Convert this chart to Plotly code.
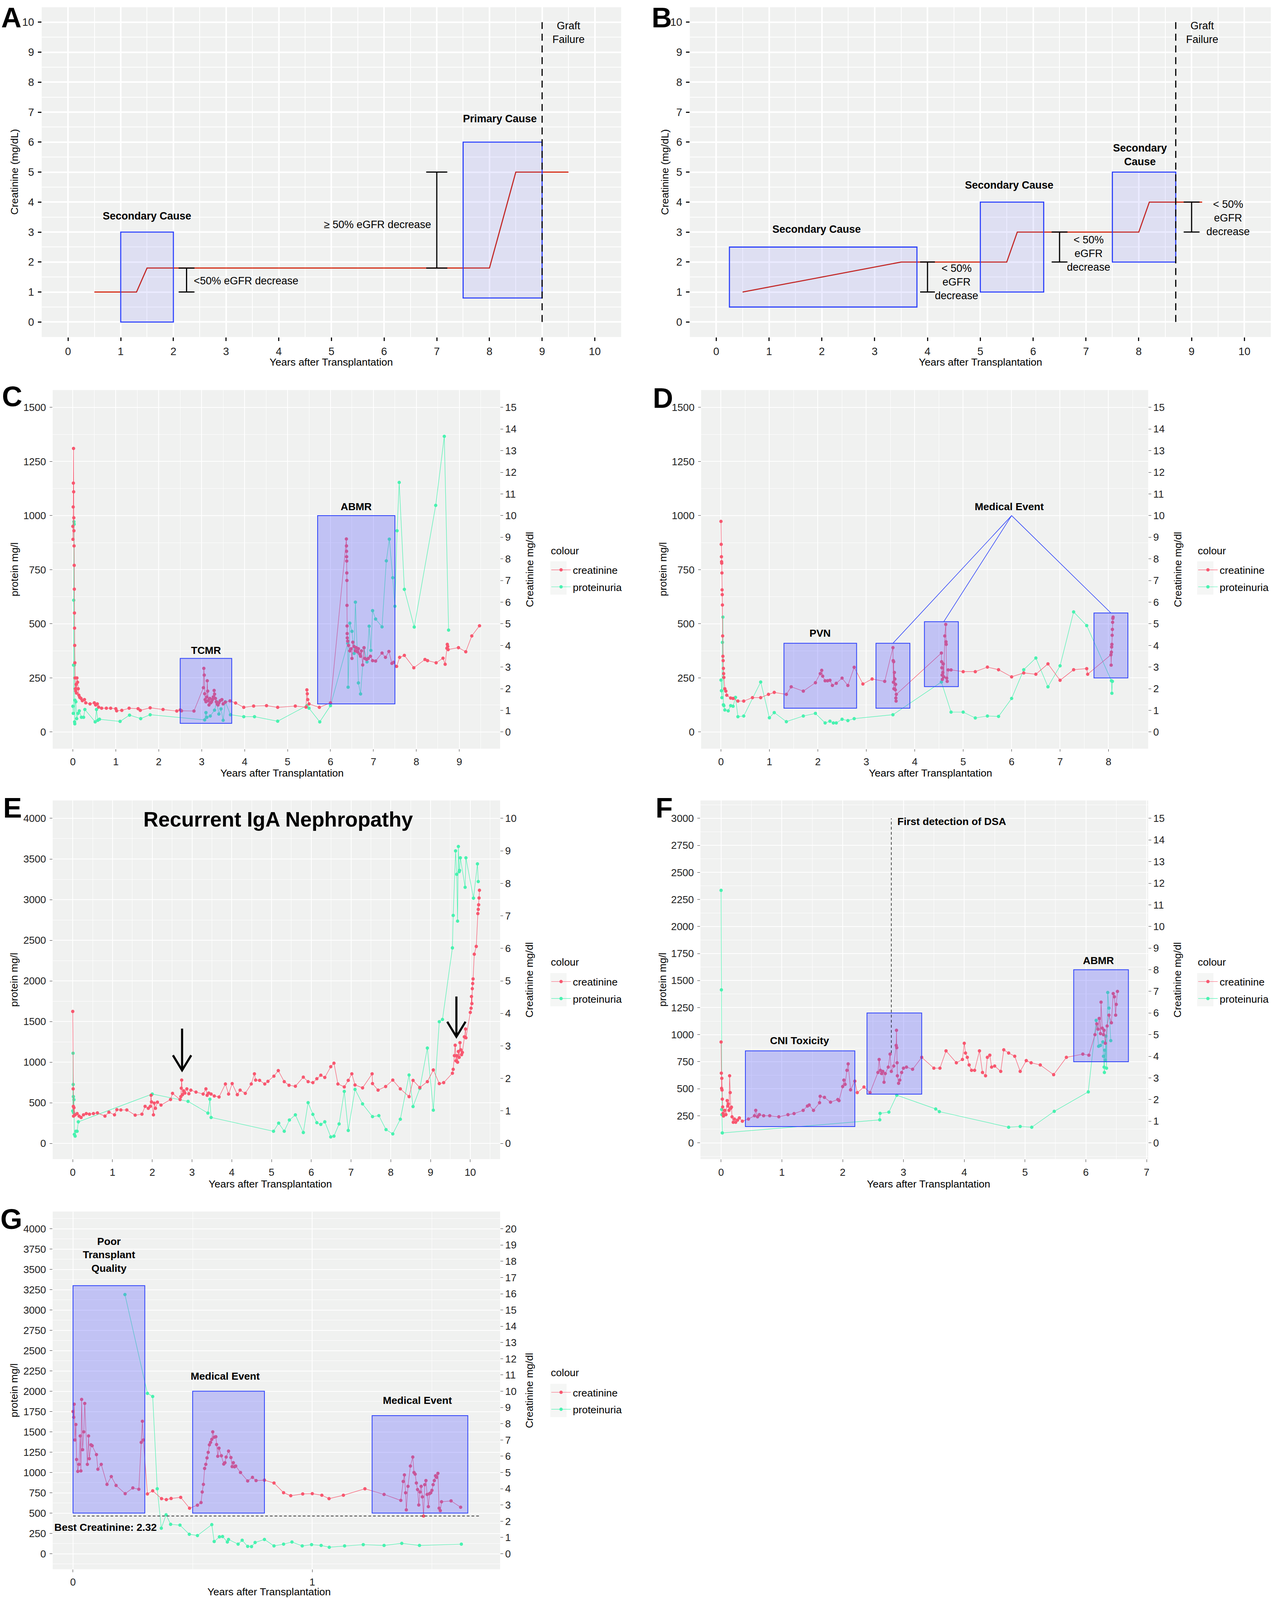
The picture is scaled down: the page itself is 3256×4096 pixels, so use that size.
import plotly.graph_objects as go

# ============================ DATA ============================
# ---- Panel A : schematic creatinine course (mg/dL) ----
A_LINE_X = [0.5, 1.3, 1.5, 8.0, 8.5, 9.5]
A_LINE_Y = [1.0, 1.0, 1.8, 1.8, 5.0, 5.0]
A_BOX_X0 = [1.0, 7.5]
A_BOX_X1 = [2.0, 9.0]
A_BOX_Y0 = [0.0, 0.8]
A_BOX_Y1 = [3.0, 6.0]
A_ERR_X = [2.25, 7.0]
A_ERR_LO = [1.0, 1.8]
A_ERR_HI = [1.8, 5.0]
A_FAIL_X = 9.0
A_FAIL_Y = [0.0, 10.0]
A_LABEL_X = [1.5, 8.2, 3.38, 5.87, 9.5]
A_LABEL_Y = [3.53, 6.78, 1.375, 3.25, 9.65]
A_LABEL_T = ["<b>Secondary Cause</b>", "<b>Primary Cause</b>", "&lt;50% eGFR decrease",
             "≥ 50% eGFR decrease", "Graft<br>Failure"]

# ---- Panel B ----
B_LINE_X = [0.5, 3.5, 5.5, 5.7, 8.0, 8.2, 9.2]
B_LINE_Y = [1.0, 2.0, 2.0, 3.0, 3.0, 4.0, 4.0]
B_BOX_X0 = [0.25, 5.0, 7.5]
B_BOX_X1 = [3.8, 6.2, 8.7]
B_BOX_Y0 = [0.5, 1.0, 2.0]
B_BOX_Y1 = [2.5, 4.0, 5.0]
B_ERR_X = [4.0, 6.5, 9.0]
B_ERR_LO = [1.0, 2.0, 3.0]
B_ERR_HI = [2.0, 3.0, 4.0]
B_FAIL_X = 8.7
B_FAIL_Y = [0.0, 10.0]
B_LABEL_X = [1.9, 5.55, 8.02, 4.55, 7.05, 9.69, 9.2]
B_LABEL_Y = [3.09, 4.56, 5.57, 1.34, 2.29, 3.47, 9.65]
B_LABEL_T = ["<b>Secondary Cause</b>", "<b>Secondary Cause</b>", "<b>Secondary<br>Cause</b>",
             "&lt; 50%<br>eGFR<br>decrease", "&lt; 50%<br>eGFR<br>decrease",
             "&lt; 50%<br>eGFR<br>decrease", "Graft<br>Failure"]

# right-hand (creatinine) tick values of panels C-G
RIGHT_TICKS = {"C": list(range(0, 16)), "D": list(range(0, 16)), "E": list(range(0, 11)),
               "F": list(range(0, 16)), "G": list(range(0, 21))}

# ---- Panel C : (years, creatinine mg/dl) and (years, protein mg/l) ----
C_CREAT = [(0.000, 9.5), (0.003, 8.9), (0.008, 10.4), (0.012, 11.5), (0.016, 13.1), (0.019, 11.1),
           (0.022, 9.9), (0.025, 9.3), (0.028, 8.6), (0.031, 7.7), (0.034, 6.6), (0.037, 5.5),
           (0.040, 4.8), (0.043, 4.0), (0.047, 3.2), (0.052, 2.5), (0.058, 2.0), (0.065, 1.9),
           (0.075, 2.2), (0.085, 1.8), (0.095, 2.5), (0.11, 2.3), (0.125, 2.0), (0.14, 1.7),
           (0.16, 1.6), (0.19, 1.55), (0.22, 1.45), (0.27, 1.5), (0.30, 1.35), (0.40, 1.3),
           (0.50, 1.35), (0.53, 1.25), (0.57, 1.3), (0.60, 1.15), (0.67, 1.1), (0.78, 1.1),
           (0.88, 1.1), (1.00, 1.08), (1.02, 0.98), (1.14, 1.0), (1.31, 1.1), (1.52, 1.08),
           (1.57, 1.0), (1.80, 1.12), (2.10, 1.04), (2.42, 0.97), (2.50, 1.02), (2.53, 0.98),
           (2.82, 0.97), (3.04, 2.05), (3.05, 2.94), (3.06, 2.63), (3.07, 1.77), (3.08, 1.5),
           (3.10, 1.4), (3.12, 1.62), (3.13, 2.37), (3.14, 1.89), (3.15, 1.45), (3.17, 1.25),
           (3.19, 1.55), (3.21, 1.35), (3.23, 1.4), (3.25, 1.5), (3.27, 1.62), (3.29, 1.92),
           (3.30, 1.75), (3.32, 1.55), (3.34, 1.4), (3.36, 1.3), (3.38, 1.25), (3.40, 1.35),
           (3.43, 1.45), (3.47, 1.5), (3.50, 1.3), (3.55, 1.38), (3.66, 1.44), (3.79, 1.34),
           (3.98, 1.14), (4.21, 1.2), (4.51, 1.22), (4.77, 1.14), (5.18, 1.2), (5.43, 1.15),
           (5.45, 1.95), (5.46, 1.77), (5.47, 1.5), (5.50, 1.3), (5.74, 1.14), (6.00, 1.35),
           (6.370, 8.92), (6.372, 8.6), (6.374, 8.35), (6.376, 8.1), (6.378, 7.9), (6.380, 7.35),
           (6.382, 7.0), (6.384, 5.85), (6.386, 4.9), (6.388, 4.55), (6.39, 4.35), (6.40, 4.2),
           (6.42, 4.0), (6.45, 3.75), (6.48, 3.85), (6.50, 3.4), (6.52, 4.15), (6.55, 3.95),
           (6.58, 3.75), (6.60, 3.9), (6.63, 3.7), (6.65, 3.85), (6.68, 3.6), (6.70, 3.5),
           (6.72, 3.75), (6.75, 3.1), (6.78, 3.9), (6.80, 3.4), (6.84, 3.35), (6.88, 3.4),
           (6.93, 3.5), (6.98, 3.3), (7.05, 3.28), (7.20, 3.65), (7.28, 3.45), (7.36, 3.72),
           (7.43, 3.17), (7.47, 3.22), (7.54, 3.03), (7.61, 3.45), (7.72, 3.54), (7.94, 2.97),
           (8.20, 3.35), (8.26, 3.3), (8.46, 3.2), (8.62, 3.41), (8.67, 3.13), (8.71, 3.87),
           (8.72, 4.05), (8.73, 3.95), (8.74, 3.81), (8.98, 3.9), (9.15, 3.71), (9.29, 4.44),
           (9.47, 4.91)]
C_PROT = [(0.0, 119), (0.01, 86), (0.015, 309), (0.02, 609), (0.025, 972), (0.03, 960),
          (0.035, 310), (0.04, 47), (0.045, 38), (0.05, 147), (0.07, 140), (0.09, 62),
          (0.12, 86), (0.15, 98), (0.2, 68), (0.25, 68), (0.28, 104), (0.52, 47), (0.55, 104),
          (0.58, 54), (0.62, 59), (1.1, 49), (1.32, 78), (1.58, 62), (1.8, 80), (3.07, 56),
          (3.1, 90), (3.12, 68), (3.2, 74), (3.3, 101), (3.35, 140), (3.4, 83), (3.45, 107),
          (3.5, 54), (3.55, 140), (3.67, 80), (3.98, 71), (4.23, 71), (4.77, 50), (5.45, 122),
          (5.5, 110), (5.75, 47), (6.0, 122), (6.4, 410), (6.41, 207), (6.45, 503), (6.5, 465),
          (6.55, 363), (6.58, 600), (6.65, 227), (6.7, 176), (6.78, 389), (6.85, 324),
          (6.9, 489), (6.94, 377), (6.98, 561), (7.05, 522), (7.2, 486), (7.3, 791), (7.37, 891),
          (7.45, 713), (7.5, 581), (7.55, 930), (7.6, 1153), (7.72, 659), (7.95, 485),
          (8.45, 1047), (8.65, 1366), (8.75, 471)]
C_BOX_X0 = [2.5, 5.7]
C_BOX_X1 = [3.7, 7.5]
C_BOX_Y0 = [40, 130]
C_BOX_Y1 = [340, 1000]
C_LABEL_X = [3.1, 6.6]
C_LABEL_Y = [377, 1041]
C_LABEL_T = ["<b>TCMR</b>", "<b>ABMR</b>"]

# ---- Panel D ----
D_CREAT = [(0.0, 9.73), (0.005, 8.67), (0.01, 8.1), (0.013, 7.87), (0.016, 7.8), (0.02, 7.35),
           (0.023, 6.57), (0.026, 6.35), (0.03, 5.87), (0.035, 4.44), (0.04, 3.5), (0.045, 3.3),
           (0.05, 2.94), (0.055, 2.7), (0.06, 2.52), (0.08, 2.0), (0.1, 1.89), (0.12, 1.7),
           (0.2, 1.57), (0.25, 1.55), (0.35, 1.43), (0.47, 1.43), (0.65, 1.59), (0.82, 1.59),
           (0.98, 1.74), (1.1, 1.83), (1.35, 1.74), (1.45, 2.09), (1.7, 1.89), (1.95, 2.28),
           (2.05, 2.7), (2.08, 2.85), (2.1, 2.58), (2.15, 2.37), (2.2, 2.37), (2.25, 2.39),
           (2.3, 2.15), (2.38, 2.25), (2.5, 2.49), (2.62, 2.15), (2.75, 2.99), (2.93, 2.22),
           (3.12, 2.45), (3.38, 2.34), (3.55, 3.9), (3.555, 3.3), (3.56, 2.3), (3.565, 3.25),
           (3.57, 2.0), (3.58, 2.75), (3.59, 2.45), (3.6, 1.95), (3.605, 2.2), (3.61, 1.57),
           (3.615, 1.43), (3.62, 1.74), (4.55, 3.65), (4.555, 3.25), (4.56, 2.97), (4.565, 2.63),
           (4.57, 2.43), (4.58, 2.75), (4.59, 3.15), (4.6, 2.55), (4.62, 4.44), (4.64, 4.97),
           (4.645, 4.17), (4.65, 4.05), (4.66, 2.49), (4.67, 2.34), (4.69, 2.87), (4.75, 2.87),
           (5.0, 2.79), (5.25, 2.79), (5.5, 3.0), (5.73, 2.88), (6.0, 2.55), (6.25, 2.73),
           (6.5, 2.67), (6.75, 3.15), (7.0, 2.39), (7.28, 2.88), (7.55, 2.93), (7.57, 2.67),
           (8.05, 3.57), (8.055, 3.09), (8.06, 3.69), (8.065, 3.93), (8.07, 4.05), (8.075, 4.47),
           (8.08, 4.74), (8.085, 5.07), (8.09, 5.25), (8.095, 5.31)]
D_PROT = [(0.0, 240), (0.01, 191), (0.02, 159), (0.03, 414), (0.04, 531), (0.05, 126),
          (0.06, 122), (0.08, 102), (0.15, 98), (0.2, 122), (0.25, 119), (0.3, 160), (0.35, 71),
          (0.47, 74), (0.82, 231), (1.0, 66), (1.1, 90), (1.35, 48), (1.7, 74), (1.95, 86),
          (2.15, 42), (2.25, 50), (2.32, 42), (2.38, 42), (2.5, 59), (2.62, 53), (2.75, 62),
          (3.55, 80), (4.55, 231), (4.75, 92), (5.0, 92), (5.25, 65), (5.5, 74), (5.73, 72),
          (6.0, 155), (6.25, 288), (6.5, 342), (6.75, 209), (7.0, 306), (7.28, 555), (7.55, 492),
          (8.06, 237), (8.07, 179), (8.08, 234)]
D_BOX_X0 = [1.3, 3.2, 4.2, 7.7]
D_BOX_X1 = [2.8, 3.9, 4.9, 8.4]
D_BOX_Y0 = [110, 110, 210, 250]
D_BOX_Y1 = [410, 410, 510, 550]
D_EVENT_APEX = (6.0, 1000)
D_EVENT_TO_X = [3.55, 4.6, 8.05]
D_EVENT_TO_Y = [410, 510, 550]
D_LABEL_X = [2.05, 5.95]
D_LABEL_Y = [456, 1041]
D_LABEL_T = ["<b>PVN</b>", "<b>Medical Event</b>"]

# ---- Panel E ----
E_CREAT = [(0.0, 4.06), (0.01, 1.68), (0.015, 1.14), (0.02, 0.84), (0.03, 1.1), (0.06, 0.88),
           (0.11, 0.92), (0.16, 0.84), (0.21, 0.8), (0.27, 0.88), (0.34, 0.92), (0.42, 0.9),
           (0.52, 0.92), (0.62, 0.94), (0.81, 0.84), (0.91, 0.96), (1.05, 0.88), (1.11, 1.04),
           (1.21, 1.03), (1.36, 1.03), (1.57, 0.87), (1.74, 0.9), (1.82, 1.14), (1.9, 1.08),
           (1.95, 1.14), (1.97, 1.48), (1.98, 1.28), (2.03, 0.88), (2.05, 1.24), (2.08, 1.08),
           (2.13, 1.27), (2.22, 1.18), (2.46, 1.35), (2.51, 1.54), (2.7, 1.35), (2.72, 1.44),
           (2.73, 1.7), (2.74, 1.95), (2.76, 1.5), (2.79, 1.62), (2.82, 1.55), (2.87, 1.68),
           (2.92, 1.53), (2.97, 1.64), (3.1, 1.58), (3.28, 1.52), (3.35, 1.68), (3.38, 1.48),
           (3.42, 1.55), (3.48, 1.52), (3.56, 1.46), (3.68, 1.43), (3.84, 1.83), (3.92, 1.52),
           (4.01, 1.84), (4.14, 1.5), (4.21, 1.64), (4.34, 1.54), (4.49, 1.83), (4.57, 2.14),
           (4.6, 1.95), (4.7, 1.94), (4.83, 1.83), (4.91, 1.91), (5.06, 2.07), (5.17, 2.24),
           (5.32, 1.9), (5.44, 1.79), (5.6, 1.76), (5.8, 2.04), (5.92, 1.9), (6.04, 1.87),
           (6.14, 1.99), (6.24, 2.1), (6.34, 2.03), (6.49, 2.36), (6.57, 2.47), (6.67, 1.83),
           (6.83, 1.74), (6.93, 1.94), (7.02, 2.14), (7.1, 1.8), (7.29, 1.71), (7.53, 2.14),
           (7.54, 1.84), (7.68, 1.64), (7.87, 1.75), (8.05, 1.95), (8.24, 1.68), (8.46, 1.44),
           (8.56, 1.94), (8.73, 1.72), (8.92, 1.9), (9.07, 2.26), (9.22, 1.84), (9.33, 1.87),
           (9.55, 2.16), (9.57, 2.28), (9.6, 2.7), (9.62, 3.02), (9.64, 2.54), (9.66, 2.7),
           (9.68, 2.5), (9.7, 2.83), (9.72, 2.65), (9.74, 3.1), (9.76, 2.88), (9.78, 2.73),
           (9.8, 2.8), (9.85, 3.28), (9.88, 3.52), (9.89, 3.25), (10.0, 4.03), (10.02, 4.16),
           (10.03, 4.52), (10.04, 4.3), (10.05, 4.76), (10.06, 4.92), (10.07, 5.06), (10.1, 5.82),
           (10.15, 6.06), (10.19, 7.07), (10.2, 7.2), (10.21, 7.34), (10.22, 7.55), (10.23, 7.79)]
E_PROT = [(0.0, 400), (0.008, 1110), (0.012, 726), (0.016, 576), (0.02, 378), (0.03, 538),
          (0.04, 112), (0.06, 90), (0.08, 150), (0.11, 150), (0.14, 266), (2.0, 608), (2.9, 518),
          (3.4, 374), (3.45, 544), (3.48, 320), (5.05, 150), (5.18, 250), (5.32, 150),
          (5.45, 288), (5.6, 352), (5.8, 134), (5.92, 502), (6.04, 358), (6.14, 256),
          (6.24, 234), (6.34, 266), (6.49, 80), (6.57, 90), (6.7, 240), (6.83, 640), (6.93, 160),
          (7.1, 666), (7.29, 486), (7.54, 330), (7.7, 342), (7.88, 170), (8.05, 118), (8.24, 298),
          (8.46, 842), (8.56, 454), (8.73, 678), (8.92, 1174), (9.07, 410), (9.22, 1498),
          (9.3, 1526), (9.55, 2406), (9.57, 2806), (9.63, 3600), (9.66, 3312), (9.68, 2736),
          (9.7, 3654), (9.72, 3344), (9.73, 3360), (9.75, 3514), (9.87, 3152), (9.89, 3514),
          (10.08, 3018), (10.18, 3440), (10.2, 3222)]
E_ARROW_X = [2.75, 9.65]
E_ARROW_FROM = [1413, 1808]
E_ARROW_TO = [900, 1313]
E_TITLE = ("<b>Recurrent IgA Nephropathy</b>", 5.17, 3990)

# ---- Panel F ----
F_CREAT = [(0.0, 4.66), (0.004, 3.22), (0.008, 2.52), (0.012, 2.98), (0.016, 2.44), (0.02, 2.02),
           (0.026, 1.66), (0.032, 1.36), (0.04, 1.24), (0.06, 1.5), (0.08, 1.3), (0.1, 1.95),
           (0.11, 1.7), (0.12, 1.8), (0.13, 1.5), (0.14, 3.1), (0.15, 2.32), (0.16, 1.6),
           (0.17, 1.65), (0.18, 1.2), (0.2, 0.95), (0.22, 1.1), (0.24, 0.95), (0.27, 1.05),
           (0.3, 1.15), (0.35, 1.0), (0.45, 1.1), (0.55, 1.25), (0.57, 1.5), (0.6, 1.2),
           (0.63, 1.3), (0.7, 1.25), (0.8, 1.25), (0.95, 1.2), (1.1, 1.3), (1.2, 1.35),
           (1.35, 1.5), (1.42, 1.7), (1.45, 1.75), (1.52, 1.5), (1.62, 1.85), (1.63, 2.15),
           (1.7, 2.1), (1.8, 1.88), (1.92, 2.0), (1.94, 1.95), (2.0, 2.6), (2.02, 2.9),
           (2.04, 2.7), (2.07, 3.35), (2.09, 3.65), (2.13, 2.45), (2.2, 2.85), (2.24, 2.32),
           (2.35, 2.58), (2.45, 2.32), (2.58, 3.25), (2.6, 3.85), (2.62, 3.35), (2.64, 3.2),
           (2.66, 3.3), (2.68, 2.8), (2.7, 3.2), (2.75, 3.5), (2.78, 4.1), (2.8, 3.3),
           (2.84, 3.55), (2.88, 4.5), (2.885, 5.2), (2.89, 4.4), (2.895, 3.7), (2.9, 3.1),
           (2.92, 2.75), (2.94, 2.9), (2.97, 3.25), (3.0, 3.45), (3.05, 3.5), (3.15, 3.4),
           (3.3, 3.95), (3.5, 3.45), (3.6, 3.45), (3.7, 4.25), (3.87, 3.7), (3.97, 3.85),
           (4.0, 4.6), (4.02, 4.15), (4.05, 3.95), (4.08, 3.6), (4.12, 3.35), (4.17, 3.35),
           (4.25, 4.25), (4.3, 3.25), (4.35, 3.1), (4.38, 3.95), (4.42, 4.05), (4.45, 3.5),
           (4.5, 3.55), (4.6, 3.3), (4.65, 4.3), (4.73, 4.15), (4.83, 4.0), (4.92, 3.3),
           (5.02, 3.8), (5.1, 3.7), (5.25, 3.6), (5.47, 3.15), (5.68, 3.95), (5.95, 4.1),
           (6.05, 4.05), (6.15, 5.0), (6.18, 5.5), (6.2, 5.25), (6.22, 5.75), (6.24, 5.05),
           (6.25, 6.5), (6.27, 5.3), (6.29, 5.0), (6.3, 5.2), (6.32, 4.6), (6.35, 5.4),
           (6.38, 5.9), (6.42, 5.55), (6.45, 6.9), (6.47, 6.75), (6.49, 5.9), (6.5, 6.4),
           (6.52, 7.0)]
F_PROT = [(0.0, 2334), (0.005, 1414), (0.01, 308), (0.013, 260), (0.02, 91), (2.61, 212),
          (2.615, 272), (2.76, 284), (2.89, 440), (3.53, 313), (3.59, 288), (4.73, 144),
          (4.92, 151), (5.11, 144), (5.48, 291), (6.04, 471), (6.17, 1132), (6.21, 892),
          (6.24, 900), (6.28, 933), (6.29, 800), (6.3, 700), (6.305, 650), (6.31, 856),
          (6.32, 764), (6.33, 986), (6.34, 690), (6.36, 1390), (6.38, 1245), (6.41, 945)]
F_BOX_X0 = [0.4, 2.4, 5.8]
F_BOX_X1 = [2.2, 3.3, 6.7]
F_BOX_Y0 = [150, 450, 750]
F_BOX_Y1 = [850, 1200, 1600]
F_DSA_X = 2.8
F_DSA_Y = [830, 3000]
F_LABEL_X = [1.29, 6.21, 3.79]
F_LABEL_Y = [945, 1685, 2971]
F_LABEL_T = ["<b>CNI Toxicity</b>", "<b>ABMR</b>", "<b>First detection of DSA</b>"]

# ---- Panel G ----
G_CREAT = [(0.0, 8.75), (0.003, 8.4), (0.005, 9.2), (0.008, 7.0), (0.012, 7.95), (0.015, 5.8),
           (0.02, 5.07), (0.025, 5.5), (0.03, 7.25), (0.033, 5.1), (0.036, 9.5), (0.04, 6.4),
           (0.045, 7.5), (0.049, 9.25), (0.06, 5.5), (0.065, 7.25), (0.068, 5.85), (0.075, 6.7),
           (0.08, 6.65), (0.098, 6.1), (0.104, 5.2), (0.118, 5.5), (0.142, 4.27), (0.16, 4.75),
           (0.18, 4.2), (0.218, 3.7), (0.25, 4.05), (0.275, 3.97), (0.285, 6.85), (0.29, 8.15),
           (0.294, 7.0), (0.311, 3.68), (0.333, 3.87), (0.37, 3.39), (0.39, 3.33), (0.41, 3.4),
           (0.45, 3.47), (0.487, 2.8), (0.52, 2.99), (0.535, 3.15), (0.54, 3.8), (0.545, 4.27),
           (0.55, 5.25), (0.555, 5.5), (0.56, 5.9), (0.565, 6.24), (0.57, 6.7), (0.575, 6.85),
           (0.58, 7.04), (0.584, 7.5), (0.59, 7.17), (0.597, 7.2), (0.6, 6.72), (0.605, 6.0),
           (0.61, 6.5), (0.62, 6.03), (0.63, 5.52), (0.635, 5.6), (0.64, 5.95), (0.65, 6.32),
           (0.66, 5.92), (0.665, 5.36), (0.67, 5.6), (0.675, 5.35), (0.68, 5.4), (0.7, 5.0),
           (0.73, 4.48), (0.75, 4.7), (0.765, 4.5), (0.8, 4.53), (0.84, 4.35), (0.88, 3.76),
           (0.91, 3.57), (0.96, 3.68), (1.0, 3.7), (1.04, 3.6), (1.07, 3.39), (1.13, 3.6),
           (1.22, 4.0), (1.3, 3.65), (1.37, 3.28), (1.38, 4.45), (1.385, 4.85), (1.39, 3.75),
           (1.393, 2.7), (1.4, 4.15), (1.41, 5.4), (1.42, 5.95), (1.425, 5.0), (1.43, 4.9),
           (1.435, 4.35), (1.44, 3.95), (1.445, 3.0), (1.45, 3.8), (1.455, 4.15), (1.46, 3.5),
           (1.465, 2.32), (1.47, 4.25), (1.475, 4.5), (1.48, 3.65), (1.485, 2.9), (1.49, 3.7),
           (1.495, 3.75), (1.5, 3.9), (1.505, 4.25), (1.51, 4.5), (1.515, 4.8), (1.52, 4.7),
           (1.525, 4.95), (1.53, 2.8), (1.535, 2.65), (1.54, 3.2), (1.58, 3.25), (1.62, 2.86)]
G_PROT = [(0.217, 3190), (0.311, 1974), (0.333, 1936), (0.352, 800), (0.369, 314), (0.389, 480),
          (0.408, 362), (0.447, 352), (0.486, 240), (0.52, 224), (0.58, 358), (0.59, 150),
          (0.612, 208), (0.625, 212), (0.645, 144), (0.65, 176), (0.69, 118), (0.707, 166),
          (0.73, 90), (0.746, 88), (0.761, 138), (0.8, 176), (0.84, 96), (0.88, 118),
          (0.915, 144), (0.958, 96), (0.997, 112), (1.037, 102), (1.071, 80), (1.135, 96),
          (1.213, 112), (1.3, 102), (1.374, 128), (1.448, 102), (1.623, 118)]
G_BOX_X0 = [0.0, 0.5, 1.25]
G_BOX_X1 = [0.3, 0.8, 1.65]
G_BOX_Y0 = [500, 500, 500]
G_BOX_Y1 = [3300, 2000, 1700]
G_BEST_CREAT = 2.32
G_BEST_X = [0.0, 1.7]
G_LABEL_X = [0.15, 0.636, 1.44, 0.136]
G_LABEL_Y = [3680, 2186, 1888, 326]
G_LABEL_T = ["<b>Poor<br>Transplant<br>Quality</b>", "<b>Medical Event</b>", "<b>Medical Event</b>",
             "<b>Best Creatinine: 2.32</b>"]

# ============================ STYLE / GEOMETRY ============================
REF_W, REF_H = 4053.0, 5099.0
OUT_W, OUT_H = 3256, 4096
K = OUT_W / REF_W


def fx(v):
    return v / REF_W


def fy(v):
    return 1.0 - v / REF_H


FONT = "Liberation Sans, Arial, Helvetica, sans-serif"
BG = "#F0F1F0"
TICK_TXT = "#1e1e1e"
RED = "#D01A00"
CREAT_COL = "#F8576F"
PROT_COL = "#48F2B0"
BOX_EDGE = "#2B40FA"
BOX_FILL_AB = "rgba(110,110,255,0.14)"
BOX_FILL = "rgba(85,85,255,0.3)"
LW = 1.2
MS = 8.5

GEOM = {
    "A": dict(xpx=(133, 1981), ypx=(23, 1074), xr=(-0.5, 10.5), yr=(-0.5, 10.5)),
    "B": dict(xpx=(2200, 4053), ypx=(23, 1074), xr=(-0.5, 10.5), yr=(-0.5, 10.5)),
    "C": dict(xpx=(168, 1595), ypx=(1243, 2386), xr=(-0.47, 9.95), yr=(-77, 1580), k=100, dy=250, my=125),
    "D": dict(xpx=(2236, 3662), ypx=(1243, 2386), xr=(-0.41, 8.82), yr=(-77, 1580), k=100, dy=250, my=125),
    "E": dict(xpx=(168, 1595), ypx=(2551, 3694), xr=(-0.505, 10.75), yr=(-193, 4220), k=400, dy=500, my=250),
    "F": dict(xpx=(2234, 3662), ypx=(2551, 3694), xr=(-0.339, 7.026), yr=(-151, 3165), k=200, dy=250, my=125),
    "G": dict(xpx=(168, 1595), ypx=(3861, 5001), xr=(-0.085, 1.785), yr=(-191, 4212), k=200, dy=250, my=125),
}
AXES = {"A": ("x", "y", None), "B": ("x2", "y2", None), "C": ("x3", "y3", "y4"),
        "D": ("x4", "y5", "y6"), "E": ("x5", "y7", "y8"), "F": ("x6", "y9", "y10"),
        "G": ("x7", "y11", "y12")}
LEGENDS = {"C": "legend", "D": "legend2", "E": "legend3", "F": "legend4", "G": "legend5"}
# legend geometry (reference px): key-left, title centre y, first item centre y, extra left shift
LEG_POS = {"C": (1755, 1755, 1816, 0), "D": (3826, 1755, 1816, 8), "E": (1755, 3066, 3128, 0),
           "F": (3826, 3066, 3128, 8), "G": (1755, 4374, 4437, 0)}
TITLES = {
    "A": dict(x=(1057, 1154), y=(45, 548.5)),
    "B": dict(x=(3127, 1154), y=(2120, 548.5)),
    "C": dict(x=(900, 2464), y=(45, 1814.5), r=(1689, 1814.5)),
    "D": dict(x=(2968, 2464), y=(2114, 1814.5), r=(3756, 1814.5)),
    "E": dict(x=(862, 3773), y=(45, 3122.5), r=(1689, 3122.5)),
    "F": dict(x=(2961, 3773), y=(2114, 3122.5), r=(3756, 3122.5)),
    "G": dict(x=(858, 5073), y=(45, 4431), r=(1689, 4431)),
}
# panel letters: centre x, centre y (None = hang from the top edge)
LETTERS = {"A": (36, None), "B": (2110, None), "C": (39, 1264), "D": (2114, 1268),
           "E": (40, 2575), "F": (2118, 2575), "G": (36, 3885)}


def axname(ref, kind):
    return kind + "axis" + ref[1:]


fig = go.Figure()
layout = dict(width=OUT_W, height=OUT_H, margin=dict(l=0, r=0, t=0, b=0, pad=0),
              paper_bgcolor="white", plot_bgcolor=BG, hovermode=False,
              font=dict(family=FONT, size=26.5, color="black"))
shapes = []
annots = []

for key, g in GEOM.items():
    xr_, yr_, y2r = AXES[key]
    schematic = key in ("A", "B")
    tlen = 9 if schematic else 6.7
    twid = 2.6 if schematic else 1.2
    tcol = "#111111" if schematic else "#333333"
    tsize = 27.5 if schematic else 26.2
    gw, mgw = (4.0, 2.2) if schematic else (2.2, 1.3)
    xd = [fx(g["xpx"][0]), fx(g["xpx"][1])]
    yd = [fy(g["ypx"][1]), fy(g["ypx"][0])]
    common = dict(ticks="outside", ticklen=tlen, tickwidth=twid, tickcolor=tcol,
                  tickfont=dict(family=FONT, size=tsize, color=TICK_TXT),
                  zeroline=False, showline=False)
    layout[axname(xr_, "x")] = dict(domain=xd, range=list(g["xr"]), anchor=yr_, tick0=0, dtick=1,
                                    showgrid=True, gridcolor="white", gridwidth=gw,
                                    minor=dict(tick0=0, dtick=0.5, showgrid=True,
                                               gridcolor="white", gridwidth=mgw),
                                    ticklabelstandoff=3, **common)
    layout[axname(yr_, "y")] = dict(domain=yd, range=list(g["yr"]), anchor=xr_, tick0=0,
                                    dtick=(1 if schematic else g["dy"]),
                                    showgrid=True, gridcolor="white", gridwidth=gw,
                                    minor=dict(tick0=0, dtick=(0.5 if schematic else g["my"]),
                                               showgrid=True, gridcolor="white", gridwidth=mgw),
                                    ticklabelstandoff=4, **common)
    if y2r:
        k = g["k"]
        layout[axname(y2r, "y")] = dict(overlaying=yr_, side="right", anchor=xr_,
                                        range=[g["yr"][0] / k, g["yr"][1] / k],
                                        tickmode="array", tickvals=RIGHT_TICKS[key],
                                        showgrid=False, ticklabelstandoff=0, **common)
    t = TITLES[key]
    annots.append(dict(xref="paper", yref="paper", x=fx(t["x"][0]), y=fy(t["x"][1]),
                       text="Years after Transplantation", showarrow=False,
                       xanchor="center", yanchor="middle", font=dict(size=26.5)))
    ytxt = "Creatinine (mg/dL)" if schematic else "protein mg/l"
    annots.append(dict(xref="paper", yref="paper", x=fx(t["y"][0]), y=fy(t["y"][1]),
                       text=ytxt, showarrow=False, textangle=-90,
                       xanchor="center", yanchor="middle", font=dict(size=26.5)))
    if "r" in t:
        annots.append(dict(xref="paper", yref="paper", x=fx(t["r"][0]), y=fy(t["r"][1]),
                           text="Creatinine mg/dl", showarrow=False, textangle=-90,
                           xanchor="center", yanchor="middle", font=dict(size=26.5)))
    lx, ly = LETTERS[key]
    if ly is None:
        annots.append(dict(xref="paper", yref="paper", x=fx(lx), y=1.0, text="<b>%s</b>" % key,
                           showarrow=False, xanchor="center", yanchor="top", yshift=-3,
                           font=dict(size=72, color="black")))
    else:
        annots.append(dict(xref="paper", yref="paper", x=fx(lx), y=fy(ly), text="<b>%s</b>" % key,
                           showarrow=False, xanchor="center", yanchor="middle",
                           font=dict(size=72, color="black")))


def add_boxes(xa, ya, x0s, x1s, y0s, y1s, fill, edge_w):
    for x0, x1, y0, y1 in zip(x0s, x1s, y0s, y1s):
        shapes.append(dict(type="rect", xref=xa, yref=ya, x0=x0, x1=x1, y0=y0, y1=y1,
                           fillcolor=fill, line=dict(color=BOX_EDGE, width=edge_w), layer="above"))


def add_labels(xa, ya, xs, ys, ts, size=27):
    for x, y, t in zip(xs, ys, ts):
        annots.append(dict(xref=xa, yref=ya, x=x, y=y, text=t, showarrow=False,
                           xanchor="center", yanchor="middle", font=dict(size=size, color="black")))


def add_errbars(xa, ya, xs, lo, hi, half_widths_data, px_per_unit):
    for x, a, b, hw in zip(xs, lo, hi, half_widths_data):
        fig.add_trace(go.Scatter(x=[x], y=[(a + b) / 2.0], xaxis=xa, yaxis=ya, mode="markers",
                                 marker=dict(size=1, color="rgba(0,0,0,0)"), showlegend=False,
                                 error_y=dict(type="data", symmetric=True, array=[(b - a) / 2.0],
                                              color="black", thickness=3, width=hw * px_per_unit)))


# ---------------- Panels A and B ----------------
for key, lx, ly, bx0, bx1, by0, by1, ex, elo, ehi, ehw, fxv, fyv, tx, ty, tt in [
        ("A", A_LINE_X, A_LINE_Y, A_BOX_X0, A_BOX_X1, A_BOX_Y0, A_BOX_Y1, A_ERR_X, A_ERR_LO,
         A_ERR_HI, [0.15, 0.2], A_FAIL_X, A_FAIL_Y, A_LABEL_X, A_LABEL_Y, A_LABEL_T),
        ("B", B_LINE_X, B_LINE_Y, B_BOX_X0, B_BOX_X1, B_BOX_Y0, B_BOX_Y1, B_ERR_X, B_ERR_LO,
         B_ERR_HI, [0.14, 0.15, 0.15], B_FAIL_X, B_FAIL_Y, B_LABEL_X, B_LABEL_Y, B_LABEL_T)]:
    xa, ya, _ = AXES[key]
    g = GEOM[key]
    ppu = (g["xpx"][1] - g["xpx"][0]) * K / (g["xr"][1] - g["xr"][0])
    fig.add_trace(go.Scatter(x=lx, y=ly, xaxis=xa, yaxis=ya, mode="lines",
                             line=dict(color=RED, width=2.8), showlegend=False))
    add_errbars(xa, ya, ex, elo, ehi, ehw, ppu)
    add_boxes(xa, ya, bx0, bx1, by0, by1, BOX_FILL_AB, 2.8)
    shapes.append(dict(type="line", xref=xa, yref=ya, x0=fxv, x1=fxv, y0=fyv[0], y1=fyv[1],
                       line=dict(color="black", width=3, dash="18px,12px"), layer="above"))
    add_labels(xa, ya, tx, ty, tt, size=27)


# ---------------- Panels C - G ----------------
def add_series(key, creat, prot):
    xa, ya, y2 = AXES[key]
    leg = LEGENDS[key]
    cx, cy = zip(*sorted(creat))
    px_, py_ = zip(*sorted(prot))
    fig.add_trace(go.Scatter(x=cx, y=cy, xaxis=xa, yaxis=y2, mode="lines+markers",
                             name="creatinine", legend=leg, legendgroup=leg + "c",
                             line=dict(color=CREAT_COL, width=LW),
                             marker=dict(color=CREAT_COL, size=MS)))
    fig.add_trace(go.Scatter(x=px_, y=py_, xaxis=xa, yaxis=ya, mode="lines+markers",
                             name="proteinuria", legend=leg, legendgroup=leg + "p",
                             line=dict(color=PROT_COL, width=LW),
                             marker=dict(color=PROT_COL, size=MS)))
    keyx, tcy, icy, shift = LEG_POS[key]
    layout[leg] = dict(x=fx(keyx - 3 - shift), y=fy(icy - 29.5), xanchor="left", yanchor="top",
                       bgcolor="rgba(0,0,0,0)", font=dict(size=26.5, color="black"),
                       itemwidth=50, traceorder="grouped", tracegroupgap=6,
                       itemclick=False, itemdoubleclick=False)
    annots.append(dict(xref="paper", yref="paper", x=fx(keyx - 1 - shift), y=fy(tcy), text="colour",
                       showarrow=False, xanchor="left", yanchor="middle", font=dict(size=26.5)))
    shapes.append(dict(type="rect", xref="paper", yref="paper", x0=fx(keyx - shift),
                       x1=fx(keyx + 52 - shift), y0=fy(icy - 27), y1=fy(icy + 79),
                       fillcolor="#F5F6F5", line=dict(width=0), layer="below"))


add_series("C", C_CREAT, C_PROT)
add_boxes("x3", "y3", C_BOX_X0, C_BOX_X1, C_BOX_Y0, C_BOX_Y1, BOX_FILL, 2.0)
add_labels("x3", "y3", C_LABEL_X, C_LABEL_Y, C_LABEL_T, size=26.5)

add_series("D", D_CREAT, D_PROT)
add_boxes("x4", "y5", D_BOX_X0, D_BOX_X1, D_BOX_Y0, D_BOX_Y1, BOX_FILL, 2.0)
for tx_, ty_ in zip(D_EVENT_TO_X, D_EVENT_TO_Y):
    shapes.append(dict(type="line", xref="x4", yref="y5", x0=D_EVENT_APEX[0], y0=D_EVENT_APEX[1],
                       x1=tx_, y1=ty_, line=dict(color=BOX_EDGE, width=1.5), layer="above"))
add_labels("x4", "y5", D_LABEL_X, D_LABEL_Y, D_LABEL_T, size=26.5)

add_series("E", E_CREAT, E_PROT)
HEAD_HW, HEAD_LEN = 0.23, 185
for ax_, a0, a1 in zip(E_ARROW_X, E_ARROW_FROM, E_ARROW_TO):
    fig.add_trace(go.Scatter(x=[ax_, ax_], y=[a0, a1], xaxis="x5", yaxis="y7", mode="lines",
                             line=dict(color="black", width=5.4), showlegend=False))
    fig.add_trace(go.Scatter(x=[ax_ - HEAD_HW, ax_, ax_ + HEAD_HW],
                             y=[a1 + HEAD_LEN, a1, a1 + HEAD_LEN], xaxis="x5", yaxis="y7",
                             mode="lines", line=dict(color="black", width=5.4), showlegend=False))
add_labels("x5", "y7", [E_TITLE[1]], [E_TITLE[2]], [E_TITLE[0]], size=53)

add_series("F", F_CREAT, F_PROT)
add_boxes("x6", "y9", F_BOX_X0, F_BOX_X1, F_BOX_Y0, F_BOX_Y1, BOX_FILL, 2.0)
shapes.append(dict(type="line", xref="x6", yref="y9", x0=F_DSA_X, x1=F_DSA_X, y0=F_DSA_Y[0],
                   y1=F_DSA_Y[1], line=dict(color="black", width=1.4, dash="7px,6px"), layer="above"))
add_labels("x6", "y9", F_LABEL_X, F_LABEL_Y, F_LABEL_T, size=26.5)

add_series("G", G_CREAT, G_PROT)
add_boxes("x7", "y11", G_BOX_X0, G_BOX_X1, G_BOX_Y0, G_BOX_Y1, BOX_FILL, 2.0)
shapes.append(dict(type="line", xref="x7", yref="y12", x0=G_BEST_X[0], x1=G_BEST_X[1],
                   y0=G_BEST_CREAT, y1=G_BEST_CREAT,
                   line=dict(color="black", width=1.4, dash="7px,5px"), layer="above"))
add_labels("x7", "y11", G_LABEL_X, G_LABEL_Y, G_LABEL_T, size=26.5)

layout["shapes"] = shapes
layout["annotations"] = annots
fig.update_layout(**layout)
fig.write_html("out.html", config={"displayModeBar": False},
               post_script="document.body.style.margin='0';document.body.style.overflow='hidden';")
